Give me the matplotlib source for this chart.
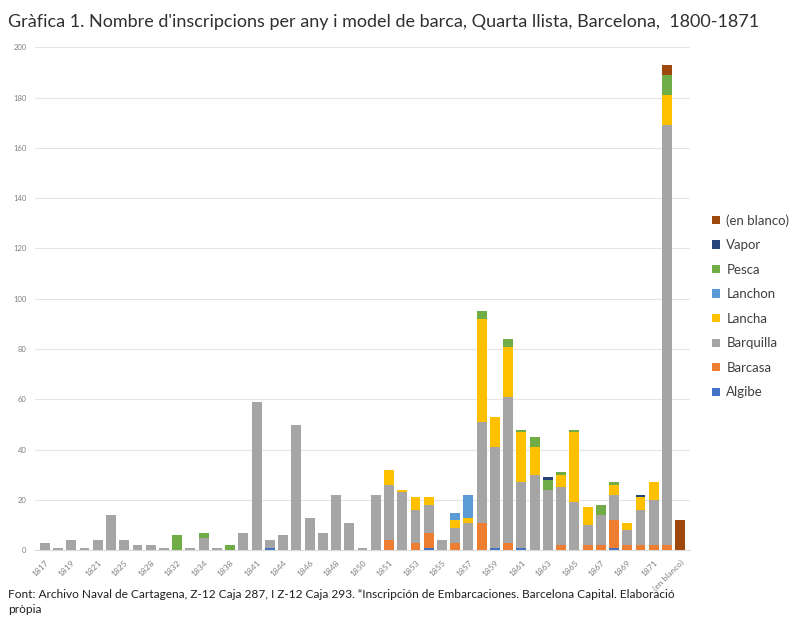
import numpy as np
import matplotlib
matplotlib.use("Agg")
import matplotlib.pyplot as plt

plt.rcParams['font.family'] = ['Lato', 'DejaVu Sans']

# categories (only every other one gets a label, as in the original)
years = ["1817", "1818", "1819", "1820", "1821", "1824", "1825", "1827", "1828", "1830",
         "1832", "1833", "1834", "1836", "1838", "1840", "1841", "1843", "1844", "1845",
         "1846", "1847", "1848", "1849", "1850", "1850", "1851", "1852", "1853", "1854",
         "1855", "1856", "1857", "1858", "1859", "1860", "1861", "1862", "1863", "1864",
         "1865", "1866", "1867", "1868", "1869", "1870", "1871", "1872", "(en blanco)"]

algibe = [0, 0, 0, 0, 0, 0, 0, 0, 0, 0,
          0, 0, 0, 0, 0, 0, 0, 1, 0, 0,
          0, 0, 0, 0, 0, 0, 0, 0, 0, 1,
          0, 0, 0, 0, 1, 0, 1, 0, 0, 0,
          0, 0, 0, 1, 0, 0, 0, 0, 0]
barcasa = [0, 0, 0, 0, 0, 0, 0, 0, 0, 0,
           0, 0, 0, 0, 0, 0, 0, 0, 0, 0,
           0, 0, 0, 0, 0, 0, 4, 0, 3, 6,
           0, 3, 0, 11, 0, 3, 0, 0, 0, 2,
           0, 2, 2, 11, 2, 2, 2, 2, 0]
barquilla = [3, 1, 4, 1, 4, 14, 4, 2, 2, 1,
             0, 1, 5, 1, 0, 7, 59, 3, 6, 50,
             13, 7, 22, 11, 1, 22, 22, 23, 13, 11,
             4, 6, 11, 40, 40, 58, 26, 30, 24, 23,
             19, 8, 12, 10, 6, 14, 18, 167, 0]
lancha = [0, 0, 0, 0, 0, 0, 0, 0, 0, 0,
          0, 0, 0, 0, 0, 0, 0, 0, 0, 0,
          0, 0, 0, 0, 0, 0, 6, 1, 5, 3,
          0, 3, 2, 41, 12, 20, 20, 11, 0, 5,
          28, 7, 0, 4, 3, 5, 7, 12, 0]
lanchon = [0, 0, 0, 0, 0, 0, 0, 0, 0, 0,
           0, 0, 0, 0, 0, 0, 0, 0, 0, 0,
           0, 0, 0, 0, 0, 0, 0, 0, 0, 0,
           0, 3, 9, 0, 0, 0, 0, 0, 0, 0,
           0, 0, 0, 0, 0, 0, 0, 0, 0]
pesca = [0, 0, 0, 0, 0, 0, 0, 0, 0, 0,
         6, 0, 2, 0, 2, 0, 0, 0, 0, 0,
         0, 0, 0, 0, 0, 0, 0, 0, 0, 0,
         0, 0, 0, 3, 0, 3, 1, 4, 4, 1,
         1, 0, 4, 1, 0, 0, 0, 8, 0]
vapor = [0, 0, 0, 0, 0, 0, 0, 0, 0, 0,
         0, 0, 0, 0, 0, 0, 0, 0, 0, 0,
         0, 0, 0, 0, 0, 0, 0, 0, 0, 0,
         0, 0, 0, 0, 0, 0, 0, 0, 1, 0,
         0, 0, 0, 0, 0, 1, 0, 0, 0]
en_blanco = [0, 0, 0, 0, 0, 0, 0, 0, 0, 0,
             0, 0, 0, 0, 0, 0, 0, 0, 0, 0,
             0, 0, 0, 0, 0, 0, 0, 0, 0, 0,
             0, 0, 0, 0, 0, 0, 0, 0, 0, 0,
             0, 0, 0, 0, 0, 0, 0, 4, 12]

series = [("Algibe", algibe, "#4472C4"),
          ("Barcasa", barcasa, "#ED7D31"),
          ("Barquilla", barquilla, "#A5A5A5"),
          ("Lancha", lancha, "#FFC000"),
          ("Lanchon", lanchon, "#5B9BD5"),
          ("Pesca", pesca, "#70AD47"),
          ("Vapor", vapor, "#264478"),
          ("(en blanco)", en_blanco, "#9E480E")]

fig = plt.figure(figsize=(8.11, 6.31), dpi=100)
ax = fig.add_axes([0.043, 0.128, 0.808, 0.797])

x = np.arange(len(years))
bottom = np.zeros(len(years))
for name, vals, col in series:
    vals = np.array(vals, dtype=float)
    ax.bar(x, vals, bottom=bottom, width=0.75, color=col, label=name, zorder=3)
    bottom += vals

ax.set_xlim(-0.75, len(years) - 0.25)
ax.set_ylim(0, 200)
ax.set_yticks(range(0, 201, 20))
ax.tick_params(axis='y', labelsize=5.5, labelcolor="#808080", length=0, pad=6)
ax.set_xticks(x[::2])
ax.set_xticklabels(years[::2], rotation=45, ha='right', rotation_mode='anchor',
                   fontsize=6, color="#808080")
ax.tick_params(axis='x', length=0, pad=6)
ax.grid(axis='y', color="#E4E4E4", linewidth=0.8, zorder=0)
for s in ["top", "right", "left"]:
    ax.spines[s].set_visible(False)
ax.spines["bottom"].set_color("#D9D9D9")

handles, labels = ax.get_legend_handles_labels()
ax.legend(handles[::-1], labels[::-1], loc='center left', bbox_to_anchor=(1.015, 0.485),
          frameon=False, fontsize=9.5, labelcolor="#404040", handlelength=0.6,
          handleheight=0.6, handletextpad=0.5, labelspacing=0.95)

fig.text(0.01, 0.958, "Gràfica 1. Nombre d'inscripcions per any i model de barca, Quarta llista, Barcelona,  1800-1871",
         fontsize=13, color="#303030")
fig.text(0.01, 0.028, "Font: Archivo Naval de Cartagena, Z-12 Caja 287, I Z-12 Caja 293. \u201cInscripción de Embarcaciones. Barcelona Capital. Elaboració\npròpia",
         fontsize=8.6, color="#202020", linespacing=1.45)

fig.savefig("out.png", dpi=100)
